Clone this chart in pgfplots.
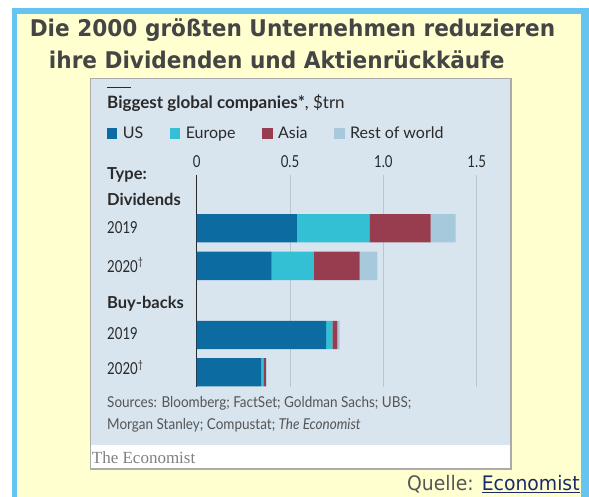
\documentclass[border=0pt]{standalone}
\usepackage{fontspec}
\usepackage{pgfplots}
\pgfplotsset{compat=1.18}
\setmainfont{Lato}
\newfontfamily\numfont[FakeStretch=0.8]{Lato}
\newfontfamily\srcfont[FakeStretch=0.9]{Lato}
\newfontfamily\titlefont[FakeStretch=0.94]{DejaVu Sans}
\newfontfamily\econfont{Liberation Serif}
\definecolor{usc}{HTML}{0C6BA0}
\definecolor{euc}{HTML}{34C0D4}
\definecolor{asc}{HTML}{983D4F}
\definecolor{rwc}{HTML}{A6C9DC}
\definecolor{panel}{HTML}{D8E4EE}
\definecolor{gridc}{HTML}{BAC5CE}
\definecolor{yel}{HTML}{FFFFD0}
\definecolor{framec}{HTML}{66C4F0}
\definecolor{ttl}{HTML}{454545}
\definecolor{txt}{HTML}{2A2A2A}
\definecolor{srcc}{HTML}{555555}
\definecolor{navy}{HTML}{1B2A6B}
\definecolor{pborder}{HTML}{ABABAB}
\begin{document}
\begin{tikzpicture}
\useasboundingbox (0,0) rectangle (589bp,497bp);
\clip (0,0) rectangle (589bp,497bp);
\fill[white] (0,0) rectangle (589bp,497bp);
\fill[framec] (11.7bp,-10bp) rectangle (600bp,489bp);
\fill[yel] (16.7bp,-10bp) rectangle (581bp,483bp);
% title
\node[anchor=base, inner sep=0pt, text=ttl, font=\titlefont\bfseries\fontsize{23bp}{27bp}\selectfont] at (292.5bp,460.3bp) {Die 2000 größten Unternehmen reduzieren};
\node[anchor=base, inner sep=0pt, text=ttl, font=\titlefont\bfseries\fontsize{23bp}{27bp}\selectfont] at (276.7bp,428.7bp) {ihre Dividenden und Aktienrückkäufe};
% panel
\fill[white] (90.5bp,28bp) rectangle (511bp,52bp);
\fill[panel] (90.5bp,52bp) rectangle (511bp,418.5bp);
\draw[pborder, line width=1.8bp] (90.5bp,28bp) rectangle (511bp,418.5bp);
% chart header
\draw[txt, line width=1.5bp] (107bp,409.7bp) -- (131bp,409.7bp);
\node[anchor=base west, inner sep=0pt, text=txt] at (107bp,388.7bp) {\fontsize{17bp}{17bp}\selectfont\bfseries Biggest global companies*\mdseries, \$trn};
% row labels
\node[anchor=base west, inner sep=0pt, text=txt, font=\bfseries\fontsize{16.5bp}{16.5bp}\selectfont] at (107bp,317bp) {Type:};
\node[anchor=base west, inner sep=0pt, text=txt, font=\bfseries\fontsize{16.5bp}{16.5bp}\selectfont] at (107bp,291.3bp) {Dividends};
\node[anchor=base west, inner sep=0pt, text=txt, font=\numfont\fontsize{16.5bp}{16.5bp}\selectfont] at (107bp,263bp) {2019};
\node[anchor=base west, inner sep=0pt, text=txt, font=\numfont\fontsize{16.5bp}{16.5bp}\selectfont] at (107bp,224.3bp) {2020\raisebox{0.42em}{\fontsize{11bp}{11bp}\selectfont †}};
\node[anchor=base west, inner sep=0pt, text=txt, font=\bfseries\fontsize{16.5bp}{16.5bp}\selectfont] at (107bp,188bp) {Buy-backs};
\node[anchor=base west, inner sep=0pt, text=txt, font=\numfont\fontsize{16.5bp}{16.5bp}\selectfont] at (107bp,157bp) {2019};
\node[anchor=base west, inner sep=0pt, text=txt, font=\numfont\fontsize{16.5bp}{16.5bp}\selectfont] at (107bp,122bp) {2020\raisebox{0.42em}{\fontsize{11bp}{11bp}\selectfont †}};
% sources
\node[anchor=base west, inner sep=0pt, text=srcc, font=\srcfont\fontsize{15bp}{15bp}\selectfont] at (107bp,89.3bp) {Sources: Bloomberg; FactSet; Goldman Sachs; UBS;};
\node[anchor=base west, inner sep=0pt, text=srcc, font=\srcfont\fontsize{15bp}{15bp}\selectfont] at (107bp,67bp) {Morgan Stanley; Compustat; \textit{The Economist}};
\node[anchor=base west, inner sep=0pt, text=gray, font=\econfont\fontsize{17bp}{17bp}\selectfont] at (91.7bp,33.7bp) {The Economist};
\node[anchor=base west, inner sep=0pt, text=srcc, font=\titlefont\fontsize{20bp}{20bp}\selectfont] at (407bp,6.3bp) {Quelle: \textcolor{navy}{\underline{Economist}}};
% axis
\begin{axis}[
  at={(196.7bp,110bp)}, anchor=south west,
  scale only axis, width=280bp, height=212bp,
  xmin=0, xmax=1.5, ymin=175, ymax=387, y dir=reverse,
  xbar stacked, bar width=28.3bp,
  axis line style={draw=none}, tick style={draw=none},
  ytick=\empty,
  xtick={0,0.5,1,1.5}, xticklabels={0,0.5,1.0,1.5},
  xticklabel pos=upper,
  xticklabel style={anchor=base, inner sep=0pt, yshift=7.7bp, font=\numfont\fontsize{16.5bp}{16.5bp}\selectfont, text=txt},
  xmajorgrids, grid style={gridc, line width=1bp},
  extra x ticks={0}, extra x tick labels={},
  extra x tick style={grid style={txt, line width=1.4bp}},
  legend columns=4,
  legend style={draw=none, fill=none, inner sep=0pt, at={(axis description cs:-0.3214,1.1958)}, anchor=west, font=\fontsize{16bp}{16bp}\selectfont, text=txt,
    /tikz/every odd column/.append style={column sep=3.5bp},
    /tikz/every even column/.append style={column sep=24.5bp}},
  legend image code/.code={\fill[#1] (0bp,-5.6bp) rectangle (10.5bp,5.6bp);},
  clip=false,
]
\addplot[fill=usc, draw=none] coordinates {(0.536,228.2) (0.402,265.9) (0.693,334.9) (0.345,372.3)};
\addplot[fill=euc, draw=none] coordinates {(0.389,228.2) (0.226,265.9) (0.034,334.9) (0.012,372.3)};
\addplot[fill=asc, draw=none] coordinates {(0.328,228.2) (0.245,265.9) (0.026,334.9) (0.013,372.3)};
\addplot[fill=rwc, draw=none] coordinates {(0.134,228.2) (0.095,265.9) (0.013,334.9) (0.004,372.3)};
\legend{US, Europe, Asia, Rest of world}
\end{axis}
\end{tikzpicture}
\end{document}
